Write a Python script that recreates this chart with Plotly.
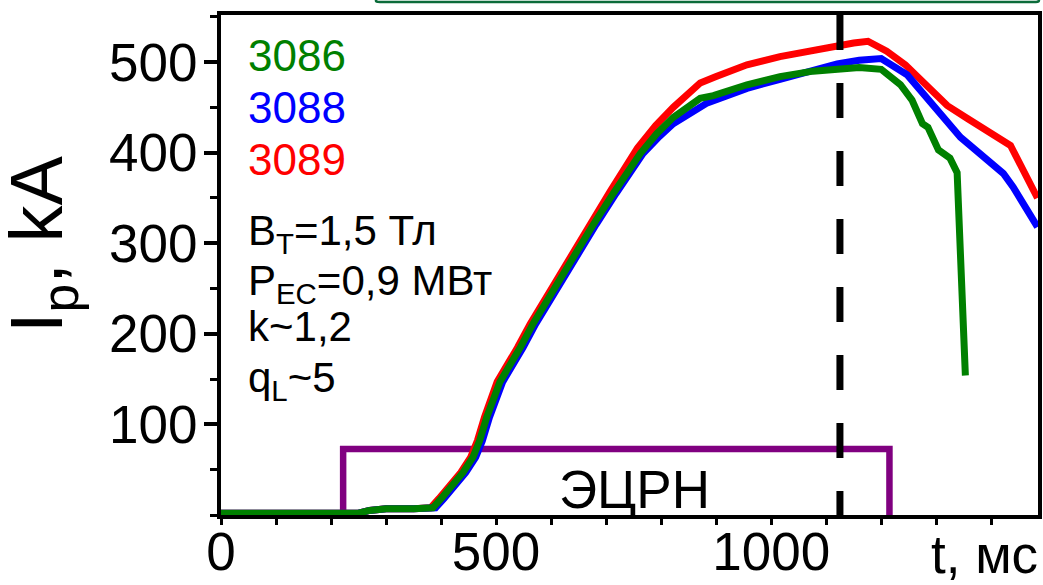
import plotly.graph_objects as go

# ---------------- data ----------------
t_3086 = [0, 250, 270, 300, 350, 385, 400, 420, 440, 458, 470, 483, 495, 507, 544, 567, 604, 640, 677, 713,
          762, 792, 822, 871, 895, 956, 1016, 1076, 1120, 1160, 1200, 1235, 1256, 1275, 1285, 1304, 1325, 1338, 1353]
i_3086 = [2, 2, 5, 7, 7, 8, 18, 33, 47, 64, 82, 108, 130, 147, 185, 211, 248, 285, 321, 355,
          399, 421, 439, 460, 463, 475, 484, 490, 493, 494, 492, 475, 458, 432, 428, 403, 394, 378, 154]

t_3088 = [0, 250, 270, 300, 350, 390, 405, 425, 445, 463, 475, 488, 500, 512, 549, 572, 609, 645, 682, 718,
          767, 797, 822, 884, 956, 1016, 1076, 1120, 1160, 1200, 1247, 1289, 1344, 1422, 1440, 1484]
i_3088 = [2, 2, 5, 7, 7, 8, 18, 33, 47, 64, 82, 108, 130, 147, 185, 211, 248, 285, 321, 355,
          399, 418, 432, 455, 471, 481, 490, 498, 502, 504, 486, 455, 417, 377, 362, 318]

t_3089 = [0, 250, 270, 300, 350, 381, 396, 416, 436, 454, 466, 479, 491, 502, 539, 562, 599, 635, 672, 708,
          757, 790, 822, 871, 900, 956, 1016, 1076, 1120, 1150, 1176, 1210, 1244, 1284, 1320, 1356, 1385, 1435, 1484]
i_3089 = [2, 2, 5, 7, 7, 8, 18, 33, 47, 64, 82, 108, 130, 147, 185, 211, 248, 285, 321, 358,
          405, 430, 450, 477, 484, 497, 506, 513, 519, 521, 523, 512, 497, 472, 452, 438, 427, 408, 350]

# ECRH pulse window (ms) and its drawn level (kA)
ecrh_start, ecrh_end, ecrh_level = 222, 1215, 73
t_marker = 1125            # dashed vertical marker (ms)

x_range = [0, 1485]
y_range = [0, 552]
y_ticks = [100, 200, 300, 400, 500]
x_ticks = [0, 500, 1000]

FONT = "Liberation Sans, Arial, sans-serif"

fig = go.Figure()

# ECRH window
fig.add_trace(go.Scatter(x=[ecrh_start, ecrh_start, ecrh_end, ecrh_end],
                         y=[0, ecrh_level, ecrh_level, 0],
                         mode="lines", line=dict(color="#800080", width=6.5),
                         hoverinfo="skip"))

fig.add_trace(go.Scatter(x=t_3089, y=i_3089, mode="lines",
                         line=dict(color="#FF0000", width=7), name="3089"))
fig.add_trace(go.Scatter(x=t_3088, y=i_3088, mode="lines",
                         line=dict(color="#0000FF", width=7), name="3088"))
fig.add_trace(go.Scatter(x=t_3086, y=i_3086, mode="lines",
                         line=dict(color="#008000", width=7), name="3086"))

# dashed marker
fig.add_trace(go.Scatter(x=[t_marker, t_marker], y=[y_range[1], y_range[0]], mode="lines",
                         line=dict(color="black", width=7, dash="35px,33px"),
                         hoverinfo="skip"))

axis_common = dict(showline=True, linecolor="black", linewidth=4, mirror=True,
                   showgrid=False, zeroline=False, ticks="outside", automargin=False,
                   tickcolor="black", tickfont=dict(family=FONT, size=53, color="black"))

fig.update_xaxes(range=x_range, tickvals=x_ticks, ticklen=6, tickwidth=3, ticklabelstandoff=-19,
                 minor=dict(dtick=100, tick0=0, ticks="outside", ticklen=6, tickwidth=3, tickcolor="black"),
                 **axis_common)
fig.update_yaxes(range=y_range, tickvals=y_ticks, ticklen=13, tickwidth=4, ticklabelstandoff=-4,
                 minor=dict(dtick=50, tick0=0, ticks="outside", ticklen=7, tickwidth=3, tickcolor="black"),
                 **axis_common)

PX_W, PX_H, ML, MT = 817, 500, 221, 15

def px(xp):
    return (xp - ML) / PX_W

def py(yp):
    return (MT + PX_H - yp) / PX_H

ann = []
for txt, col, yc, fs in [("3086", "#008000", 56, 44), ("3088", "#0000FF", 107, 44), ("3089", "#FF0000", 159, 44),
                         ("B<sub>T</sub>=1,5 Тл", "black", 233, 42), ("P<sub>EC</sub>=0,9 МВт", "black", 283, 42),
                         ("k~1,2", "black", 326, 42), ("q<sub>L</sub>~5", "black", 380, 42)]:
    ann.append(dict(text=txt, xref="paper", yref="paper", x=px(246), y=py(yc),
                    xanchor="left", yanchor="middle", showarrow=False,
                    font=dict(family=FONT, size=fs, color=col)))

ann.append(dict(text="ЭЦРН", xref="paper", yref="paper", x=px(634), y=py(489),
                xanchor="center", yanchor="middle", showarrow=False,
                font=dict(family=FONT, size=53, color="black")))
ann.append(dict(text="t, мс", xref="paper", yref="paper", x=px(1040), y=py(554),
                xanchor="right", yanchor="middle", showarrow=False,
                font=dict(family=FONT, size=53, color="black")))
ann.append(dict(text="I<sub>p</sub>, kA", xref="paper", yref="paper", x=px(42), y=py(245),
                xanchor="center", yanchor="middle", showarrow=False, textangle=-90,
                font=dict(family=FONT, size=74, color="black")))

fig.update_layout(
    width=1043, height=585, autosize=False,
    margin=dict(l=ML, r=1043 - ML - PX_W, t=MT, b=585 - MT - PX_H, pad=0),
    paper_bgcolor="white", plot_bgcolor="white",
    showlegend=False, annotations=ann,
    shapes=[dict(type="path", xref="paper", yref="paper",
                 path=f"M {px(376)} {py(-5)} L {px(376)} {py(1)} Q {px(376)} {py(2)} {px(380)} {py(2)} L {px(1036)} {py(2)} Q {px(1039)} {py(2)} {px(1039)} {py(0)}",
                 line=dict(color="#0b6b3a", width=2.5))],
)

fig.write_html("out.html")
